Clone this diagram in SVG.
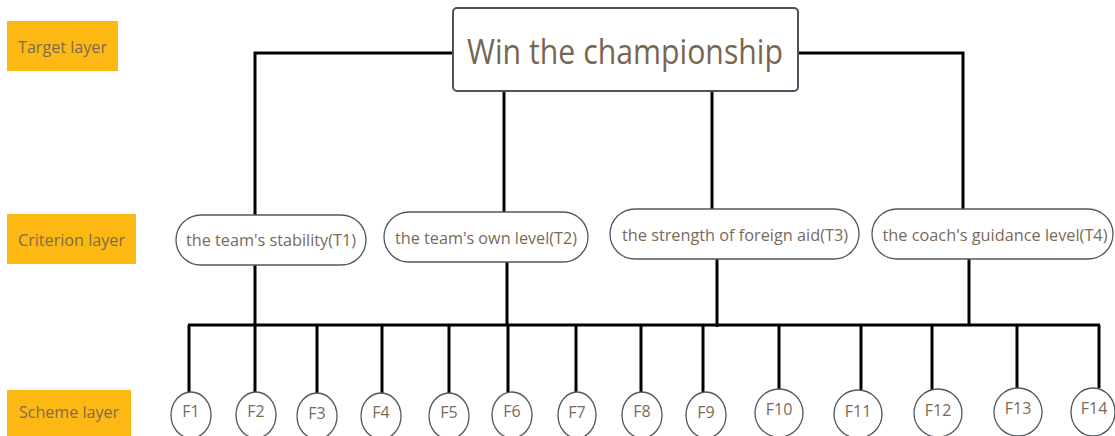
<svg xmlns="http://www.w3.org/2000/svg" width="1115" height="436" viewBox="0 0 1115 436">
<style>
.layer{fill:#FDB813}
.lt{font-family:"Open Sans","Noto Sans",sans-serif;font-size:16px;fill:#7F6B50;text-anchor:middle;dominant-baseline:central}
.title{fill:#fff;stroke:#4B5560;stroke-width:2}
.tt{font-family:"Open Sans","Noto Sans",sans-serif;font-size:34px;fill:#7A6550;text-anchor:middle;dominant-baseline:central}
.crit{fill:#fff;stroke:#505860;stroke-width:1.3}
.ct{font-family:"Open Sans","Noto Sans",sans-serif;font-size:16px;fill:#7A6A58;text-anchor:middle;dominant-baseline:central}
.f{fill:#fff;stroke:#505860;stroke-width:1.3}
.ft{font-family:"Open Sans","Noto Sans",sans-serif;font-size:16px;fill:#7A6A58;text-anchor:middle;dominant-baseline:central}
.con{fill:none;stroke:#000;stroke-width:3}
</style>
<rect width="1115" height="436" fill="#fff"/>
<g id="layers">
<g id="target-layer"><rect class="layer" x="7" y="21" width="111" height="50"/><text class="lt" x="62.5" y="47" textLength="89" lengthAdjust="spacingAndGlyphs">Target layer</text></g>
<g id="criterion-layer"><rect class="layer" x="7" y="214" width="129" height="50"/><text class="lt" x="71.5" y="240" textLength="107" lengthAdjust="spacingAndGlyphs">Criterion layer</text></g>
<g id="scheme-layer"><rect class="layer" x="7" y="390" width="124" height="46"/><text class="lt" x="69" y="412" textLength="100" lengthAdjust="spacingAndGlyphs">Scheme layer</text></g>
</g>
<g id="connectors">
<polyline class="con" points="453,53 255,53 255,215"/>
<polyline class="con" points="798,53 963,53 963,209"/>
<line class="con" x1="504" y1="91" x2="504" y2="212"/>
<line class="con" x1="712" y1="91" x2="712" y2="209"/>
<line class="con" x1="255" y1="265" x2="255" y2="325"/>
<line class="con" x1="507" y1="262" x2="507" y2="325"/>
<line class="con" x1="717" y1="259" x2="717" y2="327"/>
<line class="con" x1="969" y1="259" x2="969" y2="325"/>
<line class="con" x1="188" y1="325" x2="1100" y2="325"/>
<line class="con" x1="189" y1="325" x2="189" y2="393"/>
<line class="con" x1="255" y1="325" x2="255" y2="393"/>
<line class="con" x1="317" y1="325" x2="317" y2="394"/>
<line class="con" x1="382" y1="325" x2="382" y2="394"/>
<line class="con" x1="449" y1="325" x2="449" y2="394"/>
<line class="con" x1="508" y1="325" x2="508" y2="393"/>
<line class="con" x1="576" y1="325" x2="576" y2="392"/>
<line class="con" x1="641" y1="325" x2="641" y2="393"/>
<line class="con" x1="703" y1="325" x2="703" y2="393"/>
<line class="con" x1="779" y1="325" x2="779" y2="390"/>
<line class="con" x1="861" y1="325" x2="861" y2="391"/>
<line class="con" x1="932" y1="325" x2="932" y2="390"/>
<line class="con" x1="1017" y1="325" x2="1017" y2="389"/>
<line class="con" x1="1099" y1="325" x2="1099" y2="388"/>
</g>
<g id="goal"><rect class="title" x="453" y="8" width="345" height="83" rx="4"/><text class="tt" x="625" y="51" textLength="316" lengthAdjust="spacingAndGlyphs">Win the championship</text></g>
<g id="T1"><rect class="crit" x="176" y="215" width="190" height="50" rx="25"/><text class="ct" x="271" y="240" textLength="170" lengthAdjust="spacingAndGlyphs">the team's stability(T1)</text></g>
<g id="T2"><rect class="crit" x="384" y="212" width="204" height="50" rx="25"/><text class="ct" x="486" y="238" textLength="182" lengthAdjust="spacingAndGlyphs">the team's own level(T2)</text></g>
<g id="T3"><rect class="crit" x="610" y="209" width="249" height="50" rx="25"/><text class="ct" x="735" y="235" textLength="226" lengthAdjust="spacingAndGlyphs">the strength of foreign aid(T3)</text></g>
<g id="T4"><rect class="crit" x="872" y="209" width="241" height="50" rx="25"/><text class="ct" x="995" y="235" textLength="225" lengthAdjust="spacingAndGlyphs">the coach's guidance level(T4)</text></g>
<g id="F1"><ellipse class="f" cx="191" cy="415" rx="20" ry="23"/><text class="ft" x="191" y="411">F1</text></g>
<g id="F2"><ellipse class="f" cx="256" cy="415" rx="20" ry="23"/><text class="ft" x="256" y="411">F2</text></g>
<g id="F3"><ellipse class="f" cx="317" cy="416" rx="20" ry="23"/><text class="ft" x="317" y="413">F3</text></g>
<g id="F4"><ellipse class="f" cx="381" cy="416" rx="20" ry="23"/><text class="ft" x="381" y="412">F4</text></g>
<g id="F5"><ellipse class="f" cx="449" cy="416" rx="20" ry="23"/><text class="ft" x="449" y="412">F5</text></g>
<g id="F6"><ellipse class="f" cx="512" cy="415" rx="20" ry="23"/><text class="ft" x="512" y="411">F6</text></g>
<g id="F7"><ellipse class="f" cx="577" cy="415" rx="19" ry="23"/><text class="ft" x="577" y="412">F7</text></g>
<g id="F8"><ellipse class="f" cx="642" cy="415" rx="20" ry="23"/><text class="ft" x="642" y="411">F8</text></g>
<g id="F9"><ellipse class="f" cx="706" cy="415" rx="20" ry="23"/><text class="ft" x="706" y="412">F9</text></g>
<g id="F10"><ellipse class="f" cx="779" cy="413" rx="24" ry="24"/><text class="ft" x="779" y="409">F10</text></g>
<g id="F11"><ellipse class="f" cx="858" cy="414" rx="24" ry="24"/><text class="ft" x="858" y="411">F11</text></g>
<g id="F12"><ellipse class="f" cx="938" cy="413" rx="24" ry="24"/><text class="ft" x="938" y="410">F12</text></g>
<g id="F13"><ellipse class="f" cx="1018" cy="412" rx="24" ry="24"/><text class="ft" x="1018" y="408">F13</text></g>
<g id="F14"><ellipse class="f" cx="1093" cy="412" rx="22" ry="24"/><text class="ft" x="1094" y="408">F14</text></g>
</svg>
